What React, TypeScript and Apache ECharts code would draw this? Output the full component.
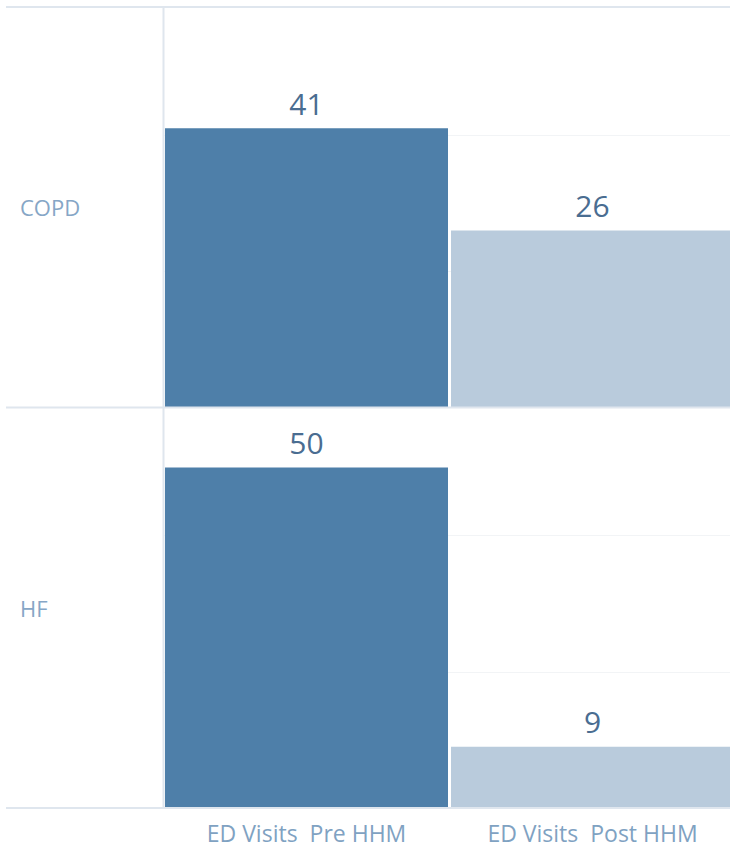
import React, { useEffect, useRef } from "react";
import * as echarts from "echarts";

const rows = ["COPD", "HF"];
const categories = ["ED Visits  Pre HHM", "ED Visits  Post HHM"];
const preValues = [41, 50];
const postValues = [26, 9];
const yTicks = [0, 20, 40];

const W = 730;
const H = 848;
const PANEL_TOP = 7;
const PANEL_H = 400.5;
const LEFT = 163.5;
const FONT = "'Open Sans', 'Noto Sans', sans-serif";
const PRE_COLOR = "#4e7fa9";
const POST_COLOR = "#b9cbdc";
const FRAME = "#dfe6ee";

export default function App() {
  const ref = useRef<HTMLDivElement>(null);
  useEffect(() => {
    if (!ref.current) return;
    const chart = echarts.init(ref.current, undefined, { renderer: "svg" });
    const grids = rows.map((_, i) => ({
      left: LEFT,
      width: 572,
      top: PANEL_TOP + i * PANEL_H,
      height: PANEL_H,
      containLabel: false,
      outerBoundsMode: "none",
    }));
    const xAxes = rows.map((_, i) => ({
      type: "category",
      gridIndex: i,
      data: categories,
      axisLine: { show: false },
      axisTick: { show: false },
      axisLabel: {
        show: i === rows.length - 1,
        color: "#7fa2c2",
        fontSize: 23,
        fontFamily: FONT,
        margin: 13,
      },
    }));
    const yAxes = rows.map((_, i) => ({
      type: "value",
      gridIndex: i,
      min: yTicks[0],
      max: 58.8,
      interval: yTicks[1] - yTicks[0],
      axisLine: { show: false },
      axisTick: { show: false },
      axisLabel: { show: false },
      splitLine: { show: true, lineStyle: { color: "#f2f4f6", width: 1 } },
    }));
    const series = rows.map((_, i) => ({
      type: "bar",
      xAxisIndex: i,
      yAxisIndex: i,
      barWidth: 283,
      data: [
        { value: preValues[i], itemStyle: { color: PRE_COLOR } },
        { value: postValues[i], itemStyle: { color: POST_COLOR } },
      ],
      label: {
        show: true,
        position: "top",
        distance: 10,
        color: "#4a6d91",
        fontSize: 30,
        fontFamily: FONT,
      },
    }));
    const lines: any[] = [];
    for (let i = 0; i <= rows.length; i++) {
      const y = PANEL_TOP + i * PANEL_H;
      lines.push({
        type: "line",
        z: 10,
        shape: { x1: 6, y1: y, x2: W, y2: y },
        style: { stroke: FRAME, lineWidth: 2 },
      });
    }
    lines.push({
      type: "line",
      z: 10,
      shape: { x1: 163.5, y1: PANEL_TOP, x2: 163.5, y2: PANEL_TOP + rows.length * PANEL_H },
      style: { stroke: FRAME, lineWidth: 2 },
    });
    rows.forEach((r, i) => {
      lines.push({
        type: "text",
        z: 10,
        x: 20,
        y: PANEL_TOP + i * PANEL_H + PANEL_H / 2,
        style: {
          text: r,
          fill: "#86a6c6",
          fontSize: 22,
          fontFamily: FONT,
          verticalAlign: "middle",
        },
      });
    });
    chart.setOption({
      animation: false,
      backgroundColor: "#ffffff",
      grid: grids,
      xAxis: xAxes,
      yAxis: yAxes,
      series,
      graphic: lines,
    });
    return () => chart.dispose();
  }, []);
  return (
    <div
      ref={ref}
      style={{ position: "fixed", left: 0, top: 0, width: W, height: H }}
    />
  );
}
